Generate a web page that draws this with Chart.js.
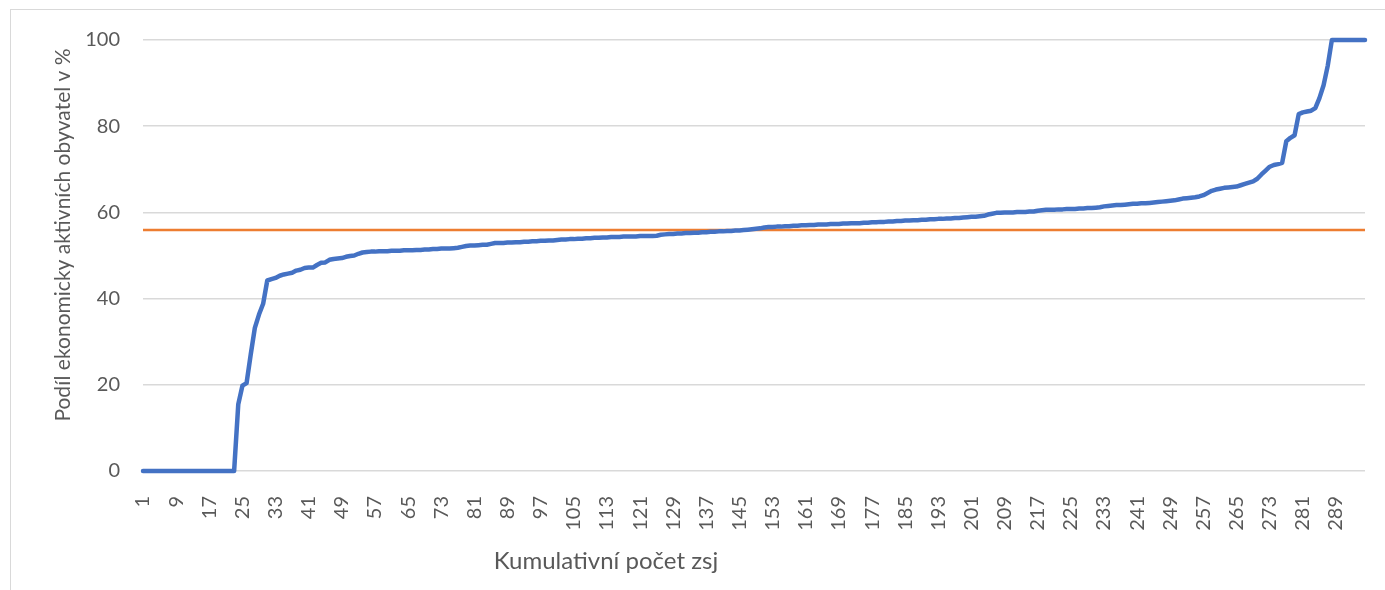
<!DOCTYPE html>
<html>
<head>
<meta charset="utf-8">
<script src="https://cdn.jsdelivr.net/npm/chart.js@4.4.0/dist/chart.umd.js"></script>
<style>
    html, body { margin: 0; padding: 0; background: #fff; overflow: hidden; }
    #frame {
        position: absolute; left: 10px; top: 9px;
        width: 2000px; height: 2000px;
        border: 1px solid #d9d9d9;
    }
    #chart { position: absolute; left: 0; top: 0; }
</style>
</head>
<body>
<div id="frame"></div>
<canvas id="chart" width="1385" height="590"></canvas>
<script>
// Podíl ekonomicky aktivních obyvatel v % (seřazeno), zsj 1..296
const shareValues = [
    0, 0, 0, 0, 0, 0, 0, 0, 0, 0,
    0, 0, 0, 0, 0, 0, 0, 0, 0, 0,
    0, 0, 0, 15.5, 19.8, 20.4, 27.0, 33.2, 36.3, 38.8,
    44.2, 44.5, 44.8, 45.3, 45.6, 45.8, 46.0, 46.5, 46.7, 47.1,
    47.2, 47.2, 47.8, 48.3, 48.4, 49.0, 49.2, 49.3, 49.4, 49.7,
    49.9, 50.0, 50.4, 50.7, 50.8, 50.9, 50.9, 51.0, 51.0, 51.0,
    51.1, 51.1, 51.1, 51.2, 51.2, 51.2, 51.3, 51.3, 51.4, 51.4,
    51.5, 51.5, 51.6, 51.6, 51.6, 51.7, 51.8, 52.0, 52.2, 52.3,
    52.3, 52.4, 52.5, 52.5, 52.7, 52.9, 52.9, 52.9, 53.0, 53.0,
    53.1, 53.1, 53.2, 53.2, 53.3, 53.3, 53.4, 53.4, 53.5, 53.5,
    53.6, 53.7, 53.7, 53.8, 53.8, 53.9, 53.9, 54.0, 54.0, 54.1,
    54.1, 54.2, 54.2, 54.3, 54.3, 54.3, 54.4, 54.4, 54.4, 54.4,
    54.5, 54.5, 54.5, 54.5, 54.6, 54.8, 54.9, 55.0, 55.0, 55.1,
    55.1, 55.2, 55.2, 55.3, 55.3, 55.4, 55.4, 55.5, 55.5, 55.6,
    55.6, 55.7, 55.7, 55.8, 55.8, 55.9, 56.0, 56.1, 56.2, 56.3,
    56.5, 56.6, 56.6, 56.7, 56.7, 56.8, 56.8, 56.9, 56.9, 57.0,
    57.0, 57.1, 57.1, 57.2, 57.2, 57.2, 57.3, 57.3, 57.3, 57.4,
    57.4, 57.5, 57.5, 57.5, 57.6, 57.6, 57.7, 57.7, 57.8, 57.8,
    57.9, 57.9, 58.0, 58.0, 58.1, 58.1, 58.2, 58.2, 58.3, 58.3,
    58.4, 58.4, 58.5, 58.5, 58.6, 58.6, 58.7, 58.7, 58.8, 58.9,
    59.0, 59.0, 59.1, 59.2, 59.5, 59.7, 59.9, 59.9, 60.0, 60.0,
    60.0, 60.1, 60.1, 60.1, 60.2, 60.2, 60.4, 60.5, 60.6, 60.6,
    60.6, 60.7, 60.7, 60.8, 60.8, 60.8, 60.9, 60.9, 61.0, 61.0,
    61.1, 61.2, 61.4, 61.5, 61.6, 61.7, 61.7, 61.8, 61.9, 62.0,
    62.0, 62.1, 62.1, 62.2, 62.3, 62.4, 62.5, 62.6, 62.7, 62.8,
    63.0, 63.2, 63.3, 63.4, 63.5, 63.7, 64.0, 64.5, 65.0, 65.3,
    65.5, 65.7, 65.8, 65.9, 66.0, 66.3, 66.6, 66.9, 67.2, 67.8,
    68.8, 69.7, 70.6, 71.0, 71.2, 71.5, 76.5, 77.3, 77.9, 82.8,
    83.2, 83.4, 83.6, 84.2, 86.5, 89.5, 94.0, 100, 100, 100,
    100, 100, 100, 100, 100, 100
];

// průměr (oranžová čára)
const averageShare = 55.9;

// kategorie: pořadí zsj 1..296
const categories = shareValues.map(function(v, i) { return String(i + 1); });
const labelStep = 8;
const yTicks = [0, 20, 40, 60, 80, 100];

const xTitle = 'Kumulativní počet zsj';
const yTitle = 'Podíl ekonomicky aktivních obyvatel v %';

const textColor = '#595959';
const fontFamily = 'Lato, "Open Sans", sans-serif';

// popisky os kreslí vlastní plugin, aby seděla poloha jako v Excelu
const axisTitles = {
    id: 'axisTitles',
    afterDraw: function(chart) {
        const ctx = chart.ctx;
        ctx.save();
        ctx.fillStyle = textColor;
        ctx.textAlign = 'center';
        ctx.textBaseline = 'middle';
        ctx.font = '24px ' + fontFamily;
        ctx.fillText(xTitle, 606, 561);
        ctx.font = '21px ' + fontFamily;
        ctx.translate(63, 235);
        ctx.rotate(-Math.PI / 2);
        ctx.fillText(yTitle, 0, 0);
        ctx.restore();
    }
};

new Chart(document.getElementById('chart'), {
    type: 'line',
    data: {
        labels: categories,
        datasets: [{
            label: 'Podíl',
            data: shareValues,
            borderColor: '#4472C4',
            borderWidth: 4.5,
            pointRadius: 0,
            tension: 0,
            borderJoinStyle: 'round',
            borderCapStyle: 'round',
            clip: false,
            order: 1
        }, {
            label: 'Průměr',
            data: categories.map(function() { return averageShare; }),
            borderColor: '#ED7D31',
            borderWidth: 2.5,
            pointRadius: 0,
            tension: 0,
            clip: false,
            order: 2
        }]
    },
    options: {
        responsive: false,
        animation: false,
        layout: { padding: { top: 40, right: 20, left: 0, bottom: 0 } },
        plugins: {
            legend: { display: false },
            tooltip: { enabled: false }
        },
        scales: {
            x: {
                offset: false,
                grid: { display: false },
                border: { display: false },
                afterFit: function(scale) {
                    scale.height = 119;
                    scale.paddingLeft = 0;
                    scale.paddingRight = 0;
                },
                ticks: {
                    autoSkip: false,
                    maxRotation: 90,
                    minRotation: 90,
                    padding: 17,
                    color: textColor,
                    font: { family: fontFamily, size: 20 },
                    callback: function(value, index) {
                        return index % labelStep === 0 ? categories[index] : '';
                    }
                }
            },
            y: {
                min: 0,
                max: 100,
                afterFit: function(scale) {
                    scale.width = 143;
                    scale.paddingTop = 0;
                    scale.paddingBottom = 0;
                },
                afterBuildTicks: function(scale) {
                    scale.ticks = yTicks.map(function(v) { return { value: v }; });
                },
                grid: { color: '#d9d9d9', lineWidth: 1.5, drawTicks: false },
                border: { display: false },
                ticks: {
                    padding: 23,
                    color: textColor,
                    font: { family: fontFamily, size: 20 }
                }
            }
        }
    },
    plugins: [axisTitles]
});
</script>
</body>
</html>
